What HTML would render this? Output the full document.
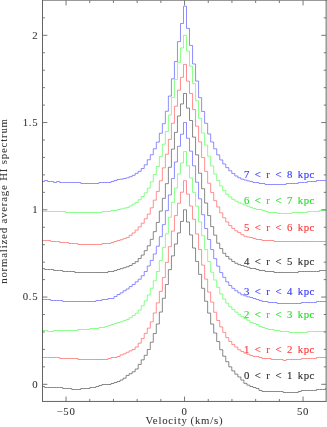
<!DOCTYPE html>
<html><head><meta charset="utf-8"><title>HI spectra</title>
<style>
html,body{margin:0;padding:0;background:#fff;}
body{width:327px;height:427px;overflow:hidden;font-family:"Liberation Serif",serif;}
svg{display:block;position:absolute;left:0;top:0;will-change:transform;}
text{font-family:"Liberation Serif",serif;}
</style></head><body>
<svg width="327" height="427" viewBox="0 0 327 427">
<rect x="0" y="0" width="327" height="427" fill="#fff"/>
<defs><clipPath id="c"><rect x="42.5" y="0.5" width="283.65" height="400.95"/></clipPath></defs>

<g clip-path="url(#c)" fill="none" stroke-linejoin="miter">
<path d="M35.51,385.50H38.53V385.50H41.55V386.50H44.57V387.50H47.59V387.50H50.61V387.50H53.63V387.50H56.65V387.50H59.67V387.50H62.69V388.50H65.71V388.50H68.73V388.50H71.75V389.50H74.77V389.50H77.79V389.50H80.81V388.50H83.83V388.50H86.85V388.50H89.87V387.50H92.89V387.50H95.91V386.50H98.93V385.50H101.95V384.50H104.97V384.50H107.99V384.50H111.01V383.50H114.03V382.50H117.05V381.50H120.07V380.04H123.09V378.19H126.11V375.45H129.13V373.66H132.15V371.79H135.17V369.03H138.19V364.41H141.21V359.87H144.23V355.33H147.25V349.57H150.27V342.25H153.29V333.52H156.31V324.01H159.33V312.06H162.35V298.27H165.37V284.49H168.39V269.65H171.41V255.87H174.43V244.00H177.45V232.92H180.47V221.40H183.49V209.80H186.51V222.02H189.53V234.93H192.55V248.02H195.57V261.45H198.59V274.37H201.61V288.32H204.63V301.24H207.65V313.10H210.67V324.10H213.69V333.00H216.71V341.55H219.73V349.75H222.75V356.21H225.77V361.70H228.79V366.85H231.81V370.86H234.83V374.18H237.85V376.97H240.87V380.02H243.89V383.34H246.91V385.17H249.93V386.50H252.95V387.50H255.97V388.50H258.99V390.50H262.01V391.50H265.03V391.50H268.05V391.50H271.07V391.50H274.09V391.50H277.11V391.50H280.13V391.50H283.15V392.50H286.17V392.50H289.19V392.50H292.21V392.50H295.23V392.50H298.25V391.50H301.27V390.50H304.29V390.50H307.31V390.50H310.33V390.50H313.35V390.50H316.37V389.50H319.39V389.50H322.41V389.50H325.43V388.50H328.45V388.50H331.47V388.50H334.49" stroke="#5a5a5a" stroke-width="0.72"/>
<path d="M35.51,356.50H38.53V356.50H41.55V357.50H44.57V357.50H47.59V357.50H50.61V357.50H53.63V357.50H56.65V357.50H59.67V358.50H62.69V358.50H65.71V358.50H68.73V358.50H71.75V358.50H74.77V358.50H77.79V359.50H80.81V359.50H83.83V359.50H86.85V359.50H89.87V359.50H92.89V359.50H95.91V359.50H98.93V359.50H101.95V359.50H104.97V359.50H107.99V358.50H111.01V357.50H114.03V357.50H117.05V356.50H120.07V354.87H123.09V353.82H126.11V352.25H129.13V350.85H132.15V349.46H135.17V347.02H138.19V343.18H141.21V338.46H144.23V333.40H147.25V328.17H150.27V321.89H153.29V312.99H156.31V302.87H159.33V291.35H162.35V277.56H165.37V262.38H168.39V246.68H171.41V231.15H174.43V215.62H177.45V203.23H180.47V192.23H183.49V180.72H186.51V194.15H189.53V206.02H192.55V219.28H195.57V233.94H198.59V249.47H201.61V265.17H204.63V279.13H207.65V292.05H210.67V302.17H213.69V312.29H216.71V320.49H219.73V326.95H222.75V332.36H225.77V337.59H228.79V341.43H231.81V344.57H234.83V347.02H237.85V349.81H240.87V351.55H243.89V353.12H246.91V354.34H249.93V355.50H252.95V356.50H255.97V356.50H258.99V357.50H262.01V358.50H265.03V358.50H268.05V358.50H271.07V359.50H274.09V359.50H277.11V359.50H280.13V359.50H283.15V360.50H286.17V359.50H289.19V359.50H292.21V359.50H295.23V359.50H298.25V359.50H301.27V358.50H304.29V358.50H307.31V358.50H310.33V358.50H313.35V358.50H316.37V357.50H319.39V357.50H322.41V357.50H325.43V357.50H328.45V357.50H331.47V356.50H334.49" stroke="#ff6464" stroke-width="0.72"/>
<path d="M35.51,329.50H38.53V329.50H41.55V330.50H44.57V330.50H47.59V331.50H50.61V331.50H53.63V330.50H56.65V330.50H59.67V330.50H62.69V330.50H65.71V330.50H68.73V330.50H71.75V330.50H74.77V330.50H77.79V329.50H80.81V329.50H83.83V329.50H86.85V329.50H89.87V328.50H92.89V328.50H95.91V328.50H98.93V327.50H101.95V327.50H104.97V326.50H107.99V325.50H111.01V324.50H114.03V323.50H117.05V322.50H120.07V321.77H123.09V320.63H126.11V319.50H129.13V317.76H132.15V315.49H135.17V313.22H138.19V310.08H141.21V305.72H144.23V300.83H147.25V295.07H150.27V288.27H153.29V280.76H156.31V271.51H159.33V260.52H162.35V247.61H165.37V233.82H168.39V217.25H171.41V202.41H174.43V188.10H177.45V173.97H180.47V162.98H183.49V151.63H186.51V165.77H189.53V177.98H192.55V192.29H195.57V206.08H198.59V221.96H201.61V235.74H204.63V249.53H207.65V261.57H210.67V272.21H213.69V280.07H216.71V287.39H219.73V293.85H222.75V299.09H225.77V303.10H228.79V306.76H231.81V309.38H234.83V312.17H237.85V314.62H240.87V316.71H243.89V318.50H246.91V320.30H249.93V322.50H252.95V323.50H255.97V324.50H258.99V326.50H262.01V327.50H265.03V328.50H268.05V329.50H271.07V329.50H274.09V330.50H277.11V330.50H280.13V331.50H283.15V331.50H286.17V331.50H289.19V332.50H292.21V332.50H295.23V332.50H298.25V332.50H301.27V332.50H304.29V332.50H307.31V331.50H310.33V331.50H313.35V331.50H316.37V331.50H319.39V331.50H322.41V331.50H325.43V331.50H328.45V330.50H331.47V330.50H334.49" stroke="#5cff5c" stroke-width="0.72"/>
<path d="M35.51,298.50H38.53V299.50H41.55V299.50H44.57V299.50H47.59V299.50H50.61V300.50H53.63V300.50H56.65V300.50H59.67V300.50H62.69V301.50H65.71V301.50H68.73V301.50H71.75V301.50H74.77V301.50H77.79V301.50H80.81V301.50H83.83V301.50H86.85V301.50H89.87V301.50H92.89V301.50H95.91V300.50H98.93V300.50H101.95V299.50H104.97V299.50H107.99V298.50H111.01V298.50H114.03V296.50H117.05V294.50H120.07V292.86H123.09V290.77H126.11V289.02H129.13V286.58H132.15V284.49H135.17V281.87H138.19V279.25H141.21V275.76H144.23V271.49H147.25V265.99H150.27V260.41H153.29V253.95H156.31V246.27H159.33V236.67H162.35V224.63H165.37V210.67H168.39V194.97H171.41V178.56H174.43V161.99H177.45V146.28H180.47V134.24H183.49V122.55H186.51V138.25H189.53V151.17H192.55V165.83H195.57V182.23H198.59V198.81H201.61V214.69H204.63V228.47H207.65V239.47H210.67V249.59H213.69V258.66H216.71V266.16H219.73V272.62H222.75V277.33H225.77V281.87H228.79V285.53H231.81V288.32H234.83V290.77H237.85V292.86H240.87V294.78H243.89V295.80H246.91V296.82H249.93V297.50H252.95V298.50H255.97V299.50H258.99V300.50H262.01V301.50H265.03V301.50H268.05V302.50H271.07V302.50H274.09V302.50H277.11V303.50H280.13V303.50H283.15V303.50H286.17V303.50H289.19V303.50H292.21V303.50H295.23V303.50H298.25V303.50H301.27V302.50H304.29V302.50H307.31V302.50H310.33V302.50H313.35V302.50H316.37V301.50H319.39V301.50H322.41V301.50H325.43V301.50H328.45V301.50H331.47V300.50H334.49" stroke="#6262ff" stroke-width="0.72"/>
<path d="M35.51,268.50H38.53V268.50H41.55V268.50H44.57V269.50H47.59V269.50H50.61V269.50H53.63V270.50H56.65V270.50H59.67V270.50H62.69V271.50H65.71V271.50H68.73V271.50H71.75V271.50H74.77V272.50H77.79V272.50H80.81V272.50H83.83V272.50H86.85V272.50H89.87V272.50H92.89V272.50H95.91V272.50H98.93V272.50H101.95V272.50H104.97V272.50H107.99V271.50H111.01V271.50H114.03V270.50H117.05V269.50H120.07V268.65H123.09V267.70H126.11V266.75H129.13V265.52H132.15V263.60H135.17V261.68H138.19V258.54H141.21V255.05H144.23V250.69H147.25V245.81H150.27V239.35H153.29V231.67H156.31V222.42H159.33V211.08H162.35V198.34H165.37V183.68H168.39V167.28H171.41V149.13H174.43V132.38H177.45V115.98H180.47V103.94H183.49V93.47H186.51V108.12H189.53V120.51H192.55V137.09H195.57V154.89H198.59V173.21H201.61V188.74H204.63V203.05H207.65V215.62H210.67V226.61H213.69V235.16H216.71V243.19H219.73V248.60H222.75V253.31H225.77V256.45H228.79V259.07H231.81V261.51H234.83V263.26H237.85V264.65H240.87V265.52H243.89V266.40H246.91V267.27H249.93V268.50H252.95V268.50H255.97V269.50H258.99V270.50H262.01V270.50H265.03V271.50H268.05V271.50H271.07V271.50H274.09V272.50H277.11V272.50H280.13V272.50H283.15V272.50H286.17V272.50H289.19V272.50H292.21V272.50H295.23V272.50H298.25V271.50H301.27V271.50H304.29V271.50H307.31V271.50H310.33V271.50H313.35V271.50H316.37V271.50H319.39V270.50H322.41V270.50H325.43V270.50H328.45V270.50H331.47V270.50H334.49" stroke="#5a5a5a" stroke-width="0.72"/>
<path d="M35.51,239.50H38.53V239.50H41.55V240.50H44.57V240.50H47.59V240.50H50.61V241.50H53.63V241.50H56.65V241.50H59.67V242.50H62.69V242.50H65.71V242.50H68.73V243.50H71.75V243.50H74.77V243.50H77.79V244.50H80.81V244.50H83.83V244.50H86.85V244.50H89.87V244.50H92.89V244.50H95.91V244.50H98.93V244.50H101.95V243.50H104.97V243.50H107.99V243.50H111.01V242.50H114.03V241.50H117.05V240.50H120.07V239.70H123.09V238.60H126.11V237.49H129.13V235.31H132.15V232.95H135.17V230.16H138.19V226.84H141.21V223.18H144.23V218.82H147.25V214.10H150.27V207.82H153.29V200.14H156.31V191.42H159.33V180.77H162.35V167.86H165.37V154.25H168.39V139.42H171.41V123.19H174.43V106.26H177.45V90.21H180.47V77.30H183.49V64.38H186.51V81.14H189.53V93.52H192.55V109.58H195.57V126.16H198.59V141.86H201.61V157.57H204.63V171.35H207.65V183.22H210.67V192.47H213.69V200.67H216.71V206.95H219.73V212.88H222.75V217.77H225.77V221.96H228.79V225.62H231.81V228.41H234.83V230.86H237.85V232.60H240.87V234.70H243.89V236.27H246.91V237.08H249.93V237.50H252.95V238.50H255.97V239.50H258.99V239.50H262.01V240.50H265.03V240.50H268.05V240.50H271.07V240.50H274.09V241.50H277.11V241.50H280.13V241.50H283.15V241.50H286.17V241.50H289.19V241.50H292.21V241.50H295.23V241.50H298.25V241.50H301.27V241.50H304.29V241.50H307.31V241.50H310.33V241.50H313.35V241.50H316.37V241.50H319.39V241.50H322.41V241.50H325.43V241.50H328.45V241.50H331.47V241.50H334.49" stroke="#ff6464" stroke-width="0.72"/>
<path d="M35.51,210.50H38.53V210.50H41.55V211.50H44.57V211.50H47.59V211.50H50.61V211.50H53.63V211.50H56.65V211.50H59.67V211.50H62.69V211.50H65.71V212.50H68.73V212.50H71.75V212.50H74.77V212.50H77.79V212.50H80.81V212.50H83.83V212.50H86.85V212.50H89.87V212.50H92.89V212.50H95.91V212.50H98.93V212.50H101.95V211.50H104.97V211.50H107.99V211.50H111.01V210.50H114.03V210.50H117.05V209.50H120.07V208.95H123.09V208.24H126.11V207.53H129.13V206.05H132.15V204.22H135.17V202.47H138.19V199.68H141.21V196.54H144.23V192.87H147.25V188.16H150.27V181.88H153.29V174.55H156.31V166.52H159.33V156.58H162.35V144.19H165.37V131.45H168.39V115.05H171.41V97.42H174.43V79.45H177.45V62.35H180.47V48.04H183.49V35.30H186.51V51.00H189.53V66.19H192.55V83.46H195.57V100.74H198.59V118.36H201.61V133.02H204.63V145.06H207.65V156.23H210.67V165.83H213.69V174.03H216.71V180.48H219.73V185.98H222.75V190.60H225.77V194.27H228.79V196.97H231.81V199.33H234.83V201.25H237.85V202.82H240.87V203.87H243.89V205.03H246.91V206.19H249.93V207.50H252.95V208.50H255.97V209.50H258.99V209.50H262.01V210.50H265.03V211.50H268.05V212.50H271.07V212.50H274.09V212.50H277.11V213.50H280.13V213.50H283.15V213.50H286.17V213.50H289.19V213.50H292.21V212.50H295.23V212.50H298.25V212.50H301.27V212.50H304.29V212.50H307.31V211.50H310.33V211.50H313.35V211.50H316.37V211.50H319.39V210.50H322.41V210.50H325.43V210.50H328.45V210.50H331.47V210.50H334.49" stroke="#5cff5c" stroke-width="0.72"/>
<path d="M35.51,181.50H38.53V181.50H41.55V181.50H44.57V180.50H47.59V181.50H50.61V181.50H53.63V182.50H56.65V181.50H59.67V182.50H62.69V182.50H65.71V182.50H68.73V182.50H71.75V182.50H74.77V182.50H77.79V182.50H80.81V183.50H83.83V183.50H86.85V183.50H89.87V183.50H92.89V183.50H95.91V183.50H98.93V182.50H101.95V182.50H104.97V182.50H107.99V182.50H111.01V181.50H114.03V180.50H117.05V179.50H120.07V179.23H123.09V178.54H126.11V177.84H129.13V176.70H132.15V175.31H135.17V173.39H138.19V171.29H141.21V168.50H144.23V164.84H147.25V159.78H150.27V154.72H153.29V148.78H156.31V142.15H159.33V133.25H162.35V123.66H165.37V111.27H168.39V96.08H171.41V78.81H174.43V61.53H177.45V41.64H180.47V23.49H183.49V6.22H186.51V28.38H189.53V45.48H192.55V63.98H195.57V81.08H198.59V97.65H201.61V111.44H204.63V123.31H207.65V133.95H210.67V141.98H213.69V148.78H216.71V154.89H219.73V159.95H222.75V163.96H225.77V167.63H228.79V170.77H231.81V173.56H234.83V176.01H237.85V177.75H240.87V179.15H243.89V180.02H246.91V180.89H249.93V181.50H252.95V182.50H255.97V182.50H258.99V183.50H262.01V183.50H265.03V184.50H268.05V184.50H271.07V184.50H274.09V184.50H277.11V184.50H280.13V184.50H283.15V184.50H286.17V183.50H289.19V183.50H292.21V183.50H295.23V183.50H298.25V182.50H301.27V182.50H304.29V182.50H307.31V181.50H310.33V181.50H313.35V181.50H316.37V180.50H319.39V180.50H322.41V180.50H325.43V180.50H328.45V179.50H331.47V179.50H334.49" stroke="#6262ff" stroke-width="0.72"/>
</g>
<g stroke="#606060" stroke-width="0.85" fill="none">
<path d="M42.5,0V401.45" stroke="#484848"/><path d="M42.075,401.45H326.575" stroke="#484848"/><path d="M326.15,0V401.45" stroke="#4c4c4c"/><path d="M42.5,0.2H327.15" stroke="#505050"/>
<path d="M66.05,401.45v-4.9M66.05,0.5v4.9M89.75,401.45v-2.5M89.75,0.5v2.5M113.45,401.45v-2.5M113.45,0.5v2.5M137.15,401.45v-2.5M137.15,0.5v2.5M160.85,401.45v-2.5M160.85,0.5v2.5M184.55,401.45v-4.9M184.55,0.5v4.9M208.25,401.45v-2.5M208.25,0.5v2.5M231.95,401.45v-2.5M231.95,0.5v2.5M255.65,401.45v-2.5M255.65,0.5v2.5M279.35,401.45v-2.5M279.35,0.5v2.5M303.05,401.45v-4.9M303.05,0.5v4.9M42.5,384.30h4.9M326.15,384.30h-4.9M42.5,366.85h2.4M326.15,366.85h-2.4M42.5,349.40h2.4M326.15,349.40h-2.4M42.5,331.95h2.4M326.15,331.95h-2.4M42.5,314.50h2.4M326.15,314.50h-2.4M42.5,297.05h4.9M326.15,297.05h-4.9M42.5,279.60h2.4M326.15,279.60h-2.4M42.5,262.15h2.4M326.15,262.15h-2.4M42.5,244.70h2.4M326.15,244.70h-2.4M42.5,227.25h2.4M326.15,227.25h-2.4M42.5,209.80h4.9M326.15,209.80h-4.9M42.5,192.35h2.4M326.15,192.35h-2.4M42.5,174.90h2.4M326.15,174.90h-2.4M42.5,157.45h2.4M326.15,157.45h-2.4M42.5,140.00h2.4M326.15,140.00h-2.4M42.5,122.55h4.9M326.15,122.55h-4.9M42.5,105.10h2.4M326.15,105.10h-2.4M42.5,87.65h2.4M326.15,87.65h-2.4M42.5,70.20h2.4M326.15,70.20h-2.4M42.5,52.75h2.4M326.15,52.75h-2.4M42.5,35.30h4.9M326.15,35.30h-4.9M42.5,17.85h2.4M326.15,17.85h-2.4"/>
</g>
<g fill="#333333" stroke="#333333" stroke-width="0.05" font-size="9.8px">
<text transform="translate(66.05,414.60) scale(1.1,1)" text-anchor="middle" letter-spacing="0.6px" word-spacing="0px">−50</text>
<text transform="translate(184.55,414.60) scale(1.1,1)" text-anchor="middle" letter-spacing="0.6px" word-spacing="0px">0</text>
<text transform="translate(303.05,414.60) scale(1.1,1)" text-anchor="middle" letter-spacing="0.6px" word-spacing="0px">50</text>
<text transform="translate(38.20,387.60) scale(1.1,1)" text-anchor="end" letter-spacing="0.6px" word-spacing="0px">0</text>
<text transform="translate(38.20,300.35) scale(1.1,1)" text-anchor="end" letter-spacing="0.6px" word-spacing="0px">0.5</text>
<text transform="translate(38.20,213.10) scale(1.1,1)" text-anchor="end" letter-spacing="0.6px" word-spacing="0px">1</text>
<text transform="translate(38.20,125.85) scale(1.1,1)" text-anchor="end" letter-spacing="0.6px" word-spacing="0px">1.5</text>
<text transform="translate(38.20,38.60) scale(1.1,1)" text-anchor="end" letter-spacing="0.6px" word-spacing="0px">2</text>
<text transform="translate(184.40,423.80) scale(1.1,1)" text-anchor="middle" letter-spacing="0.7px" word-spacing="-0.4px">Velocity (km/s)</text>
<text transform="translate(6.60,201.00) rotate(-90) scale(1.1,1)" text-anchor="middle" letter-spacing="0.75px" word-spacing="0.0px">normalized average HI spectrum</text>
</g>
<g font-size="9.8px" stroke-width="0.12">
<text transform="translate(244.00,378.90) scale(1.1,1)" text-anchor="start" letter-spacing="0.5px" word-spacing="1.5px" fill="#303030" stroke="#303030">0 &lt; r &lt; 1 kpc</text>
<text transform="translate(244.00,352.50) scale(1.1,1)" text-anchor="start" letter-spacing="0.5px" word-spacing="1.5px" fill="#ff3838" stroke="#ff3838">1 &lt; r &lt; 2 kpc</text>
<text transform="translate(244.00,317.90) scale(1.1,1)" text-anchor="start" letter-spacing="0.5px" word-spacing="1.5px" fill="#28e028" stroke="#28e028">2 &lt; r &lt; 3 kpc</text>
<text transform="translate(244.00,294.80) scale(1.1,1)" text-anchor="start" letter-spacing="0.5px" word-spacing="1.5px" fill="#3838ff" stroke="#3838ff">3 &lt; r &lt; 4 kpc</text>
<text transform="translate(244.00,265.10) scale(1.1,1)" text-anchor="start" letter-spacing="0.5px" word-spacing="1.5px" fill="#303030" stroke="#303030">4 &lt; r &lt; 5 kpc</text>
<text transform="translate(244.00,230.60) scale(1.1,1)" text-anchor="start" letter-spacing="0.5px" word-spacing="1.5px" fill="#ff3838" stroke="#ff3838">5 &lt; r &lt; 6 kpc</text>
<text transform="translate(244.00,204.00) scale(1.1,1)" text-anchor="start" letter-spacing="0.5px" word-spacing="1.5px" fill="#28e028" stroke="#28e028">6 &lt; r &lt; 7 kpc</text>
<text transform="translate(244.00,178.20) scale(1.1,1)" text-anchor="start" letter-spacing="0.5px" word-spacing="1.5px" fill="#3838ff" stroke="#3838ff">7 &lt; r &lt; 8 kpc</text>
</g>
</svg></body></html>
